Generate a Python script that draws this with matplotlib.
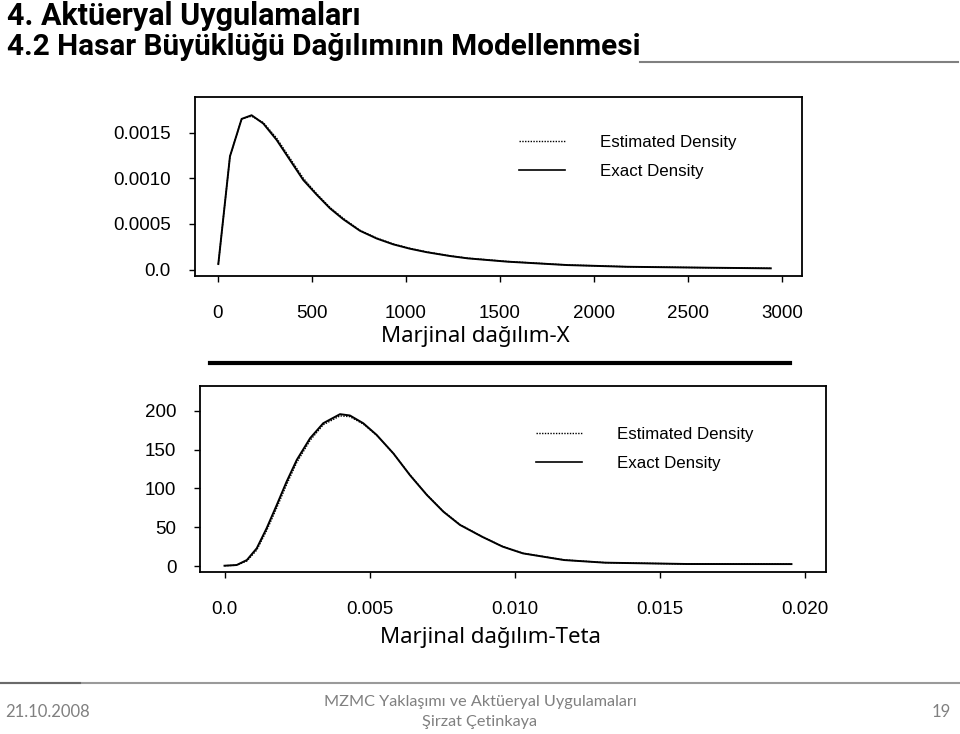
import matplotlib
matplotlib.use('Agg')
import matplotlib.pyplot as plt
from matplotlib.lines import Line2D

# --- data ---
top_x = [2, 64, 126, 179, 241, 312, 383, 454, 525, 596, 667, 755, 844, 932,
         1021, 1110, 1234, 1330, 1540, 1856, 2174, 2596, 2940]
top_exact = [0.00006, 0.00124, 0.00165, 0.00169, 0.00160, 0.00142, 0.00120,
             0.00098, 0.00082, 0.00067, 0.00055, 0.000425, 0.00034, 0.000276,
             0.000228, 0.00019, 0.000148, 0.000122, 0.000086, 0.000049,
             0.00003, 0.00002, 0.000013]
top_est = [0.00006, 0.00124, 0.00165, 0.00168, 0.00161, 0.00144, 0.00122,
           0.00100, 0.00083, 0.00068, 0.00056, 0.00043, 0.000345, 0.00028,
           0.000232, 0.000193, 0.00015, 0.000124, 0.000088, 0.00005,
           0.000031, 0.00002, 0.000013]

bot_x = [0.0, 0.00042, 0.00077, 0.00111, 0.00145, 0.0018, 0.00214, 0.00249,
         0.00295, 0.0034, 0.00398, 0.00432, 0.00478, 0.00524, 0.00582,
         0.00639, 0.00697, 0.00754, 0.00811, 0.00887, 0.00958, 0.01028,
         0.0117, 0.01311, 0.01593, 0.01953]
bot_exact = [0.4, 1.3, 7.7, 22.8, 48.6, 78.7, 108.8, 136.8, 164.8, 184, 195.7,
             194, 184, 169, 145, 117, 91.6, 70, 53, 37.8, 25, 16.3, 7.7, 4.3,
             2.6, 2.5]
bot_est = [0.4, 1.0, 6.5, 20.5, 45.5, 75, 105, 133.5, 162, 182, 193.5, 192.5,
           183, 168.5, 145, 117.5, 92, 70.5, 53.5, 38, 25.3, 16.5, 7.9, 4.4,
           2.6, 2.5]

top_xticks = [0, 500, 1000, 1500, 2000, 2500, 3000]
top_yticks = [0.0, 0.0005, 0.0010, 0.0015]
top_ylabels = ['0.0', '0.0005', '0.0010', '0.0015']
bot_xticks = [0.0, 0.005, 0.010, 0.015, 0.020]
bot_xlabels = ['0.0', '0.005', '0.010', '0.015', '0.020']
bot_yticks = [0, 50, 100, 150, 200]

W, H = 960, 734
fig = plt.figure(figsize=(W / 100, H / 100), dpi=100)
plt.rcParams['font.family'] = ['Liberation Sans', 'DejaVu Sans']


def fx(px):
    return px / W


def fy(py):
    return 1 - py / H


def style_axes(ax):
    for s in ax.spines.values():
        s.set_linewidth(1.3)
    ax.tick_params(direction='out', length=4, width=1, labelsize=13.5)


def add_legend(ax, x0, y0):
    handles = [Line2D([], [], color='black', lw=1, linestyle=(0, (1, 1))),
               Line2D([], [], color='black', lw=1.2)]
    ax.legend(handles, ['Estimated Density', 'Exact Density'],
              loc='upper left', bbox_to_anchor=(fx(x0), fy(y0)),
              bbox_transform=fig.transFigure, frameon=False,
              borderpad=0, borderaxespad=0, handlelength=2.7,
              handletextpad=2.1, labelspacing=0.8,
              prop={'family': 'Liberation Sans', 'size': 12.2})


# top panel
ax1 = fig.add_axes([fx(195), fy(276), fx(802) - fx(195), (276 - 97) / H])
ax1.plot(top_x, top_est, color='black', lw=1, linestyle=(0, (1, 1)))
ax1.plot(top_x, top_exact, color='black', lw=1.4)
ax1.set_xlim(-122, 3106)
ax1.set_ylim(-0.000071, 0.00189)
ax1.set_xticks(top_xticks)
ax1.set_xticklabels([str(v) for v in top_xticks])
ax1.set_yticks(top_yticks)
ax1.set_yticklabels(top_ylabels)
style_axes(ax1)
ax1.tick_params(axis='x', pad=17)
ax1.tick_params(axis='y', pad=13.5)
add_legend(ax1, 519, 135)

# bottom panel
ax2 = fig.add_axes([fx(200), fy(572), fx(826) - fx(200), (572 - 386) / H])
ax2.plot(bot_x, bot_est, color='black', lw=1, linestyle=(0, (1, 1)))
ax2.plot(bot_x, bot_exact, color='black', lw=1.4)
ax2.set_xlim(-0.000844, 0.02072)
ax2.set_ylim(-7.7, 232)
ax2.set_xticks(bot_xticks)
ax2.set_xticklabels(bot_xlabels)
ax2.set_yticks(bot_yticks)
ax2.set_yticklabels([str(v) for v in bot_yticks])
style_axes(ax2)
ax2.tick_params(axis='x', pad=17)
ax2.tick_params(axis='y', pad=13)
add_legend(ax2, 536, 427)

# slide texts
fig.text(fx(7), fy(16), '4. Aktüeryal Uygulamaları', fontsize=22,
         fontweight='bold', family='Roboto', va='center', ha='left')
fig.text(fx(7), fy(47), '4.2 Hasar Büyüklüğü Dağılımının Modellenmesi',
         fontsize=21.4, fontweight='bold', family='Roboto', va='center',
         ha='left')
fig.add_artist(Line2D([fx(640), fx(958)], [fy(62), fy(62)], color='#808080',
                      lw=1.5))

fig.text(fx(475), fy(337), 'Marjinal dağılım-X', fontsize=16,
         family='Noto Sans', ha='center', va='center')
fig.add_artist(Line2D([fx(210), fx(790)], [fy(363), fy(363)], color='black',
                      lw=3))
fig.text(fx(490), fy(638), 'Marjinal dağılım-Teta', fontsize=16,
         family='Noto Sans', ha='center', va='center')

# footer
fig.add_artist(Line2D([0, 1], [fy(683), fy(683)], color='#9a9a9a', lw=1.5))
fig.add_artist(Line2D([0, fx(80)], [fy(683), fy(683)], color='#6a6a6a',
                      lw=1.5))
fig.text(fx(5), fy(712), '21.10.2008', fontsize=12, family='Lato',
         color='#808080', ha='left', va='center')
fig.text(fx(480), fy(702), 'MZMC Yaklaşımı ve Aktüeryal Uygulamaları',
         fontsize=11.7, family='Lato', color='#808080', ha='center',
         va='center')
fig.text(fx(480), fy(722), 'Şirzat Çetinkaya', fontsize=11.7, family='Lato',
         color='#808080', ha='center', va='center')
fig.text(fx(951), fy(712), '19', fontsize=12, family='Lato', color='#808080',
         ha='right', va='center')

fig.savefig('out.png', dpi=100)
